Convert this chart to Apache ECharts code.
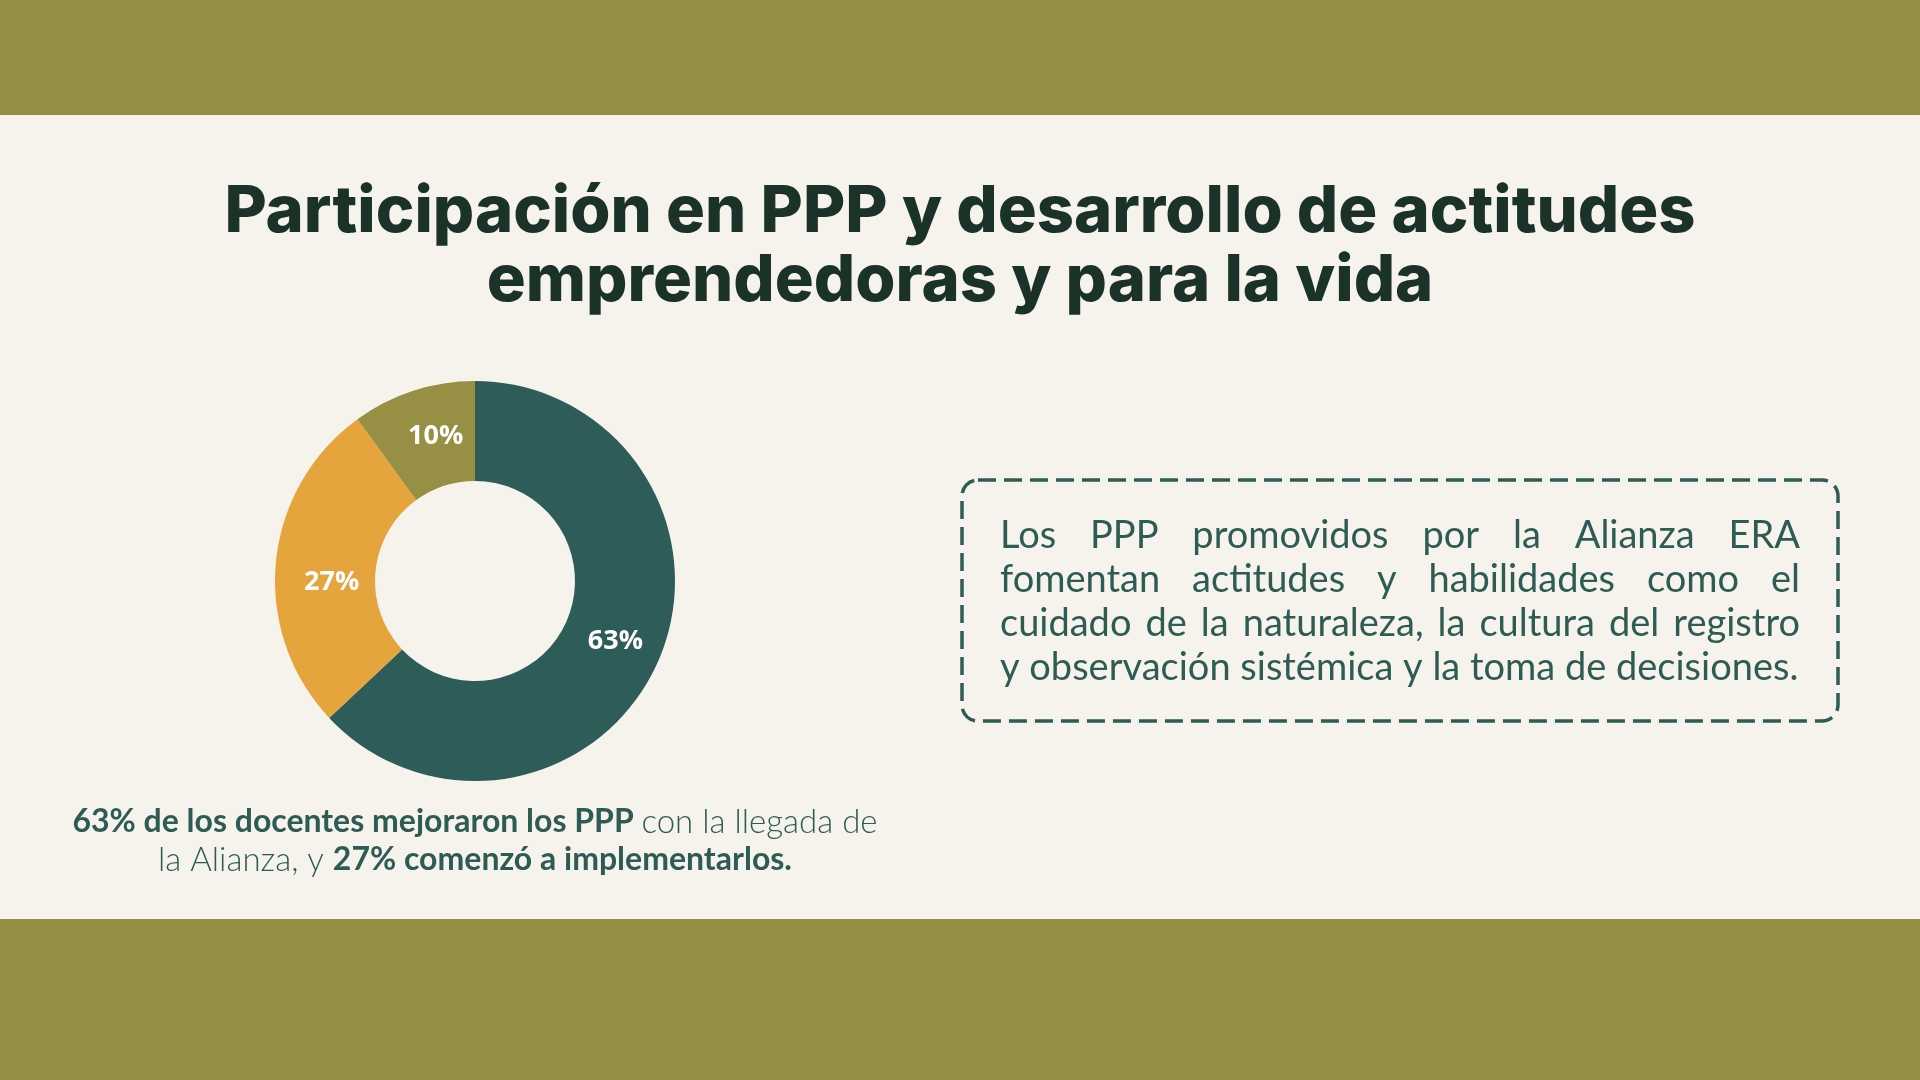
<!DOCTYPE html>
<html>
<head>
<meta charset="utf-8">
<script src="https://cdn.jsdelivr.net/npm/echarts@6/dist/echarts.min.js"></script>
<style>
  html, body { margin: 0; padding: 0; background: #f6f3ec; }
  #chart { width: 1920px; height: 1080px; }
</style>
</head>
<body>
<div id="chart"></div>
<script>
// datos del gráfico
const categorias = ['Mejoraron los PPP', 'Comenzaron a implementarlos', 'Otros']
const valores = [63, 27, 10]
const colores = ['#2e5d59', '#e6a43d', '#978f44']

const tituloLineas = [
  'Participación en PPP y desarrollo de actitudes',
  'emprendedoras y para la vida'
]
const textoCaja = [
  'Los PPP promovidos por la Alianza ERA',
  'fomentan actitudes y habilidades como el',
  'cuidado de la naturaleza, la cultura del registro',
  'y observación sistémica y la toma de decisiones.'
]
const nota = [
  '{b|63% de los docentes mejoraron los PPP }{n|con la llegada de}',
  '{n|la Alianza, y }{b|27% comenzó a implementarlos.}'
]

const verde = '#2e5c55'
const oscuro = '#1b3229'

// medir texto con canvas
const ctx = document.createElement('canvas').getContext('2d')
const ajustarTam = (texto, peso, familia, ancho) => {
  ctx.font = peso + ' 100px ' + familia
  return Math.round(100 * ancho / ctx.measureText(texto).width)
}
const justificar = (linea, y, left, right, font, ultima) => {
  ctx.font = font
  const palabras = linea.split(' ')
  const anchos = palabras.map(p => ctx.measureText(p).width)
  const total = anchos.reduce((a, b) => a + b, 0)
  const gap = ultima ? ctx.measureText(' ').width : (right - left - total) / (palabras.length - 1)
  let x = left
  return palabras.map((p, i) => {
    const el = { type: 'text', x: x, y: y, style: { text: p, font: font, fill: verde, verticalAlign: 'middle' } }
    x += anchos[i] + gap
    return el
  })
}

const tamTitulo = ajustarTam(tituloLineas[0], 800, 'Inter', 1472)
const tamCaja = ajustarTam(textoCaja[3], 400, 'Lato', 790)
const fontCaja = '400 ' + tamCaja + 'px Lato'

let graficos = [
  { type: 'rect', shape: { x: 0, y: 0, width: 1920, height: 115 }, style: { fill: '#958f43' } },
  { type: 'rect', shape: { x: 0, y: 919, width: 1920, height: 161 }, style: { fill: '#958f43' } },
  {
    type: 'rect',
    shape: { x: 962, y: 480, width: 876, height: 241, r: 16 },
    style: { fill: 'none', stroke: verde, lineWidth: 3.5, lineDash: [18, 8] }
  }
]
tituloLineas.forEach((t, i) => {
  graficos.push({
    type: 'text', x: 960, y: 212 + i * 69,
    style: { text: t, font: '800 ' + tamTitulo + 'px Inter', fill: oscuro, align: 'center', verticalAlign: 'middle' }
  })
})
textoCaja.forEach((l, i) => {
  graficos = graficos.concat(justificar(l, 536 + i * 44, 1000, 1800, fontCaja, i === textoCaja.length - 1))
})
nota.forEach((l, i) => {
  graficos.push({
    type: 'text', x: 475, y: 822 + i * 38,
    style: {
      text: l, align: 'center', verticalAlign: 'middle',
      rich: {
        b: { font: '700 32px Lato', fill: verde },
        n: { font: '300 33px Lato', fill: verde }
      }
    }
  })
})

const chart = echarts.init(document.getElementById('chart'))
chart.setOption({
  backgroundColor: '#f6f3ec',
  animation: false,
  graphic: graficos,
  series: [{
    type: 'pie',
    center: [475, 581],
    radius: [100, 200],
    startAngle: 90,
    clockwise: true,
    silent: true,
    label: {
      show: true,
      position: 'inside',
      formatter: '{c}%',
      color: '#ffffff',
      fontFamily: 'Open Sans',
      fontWeight: 'bold',
      fontSize: 27
    },
    labelLine: { show: false },
    data: valores.map((v, i) => ({
      name: categorias[i],
      value: v,
      itemStyle: { color: colores[i] },
      // pequeños ajustes de posición de etiquetas
      label: { offset: [[0, 0], [9, 16], [8, 1]][i] }
    }))
  }]
})
</script>
</body>
</html>
